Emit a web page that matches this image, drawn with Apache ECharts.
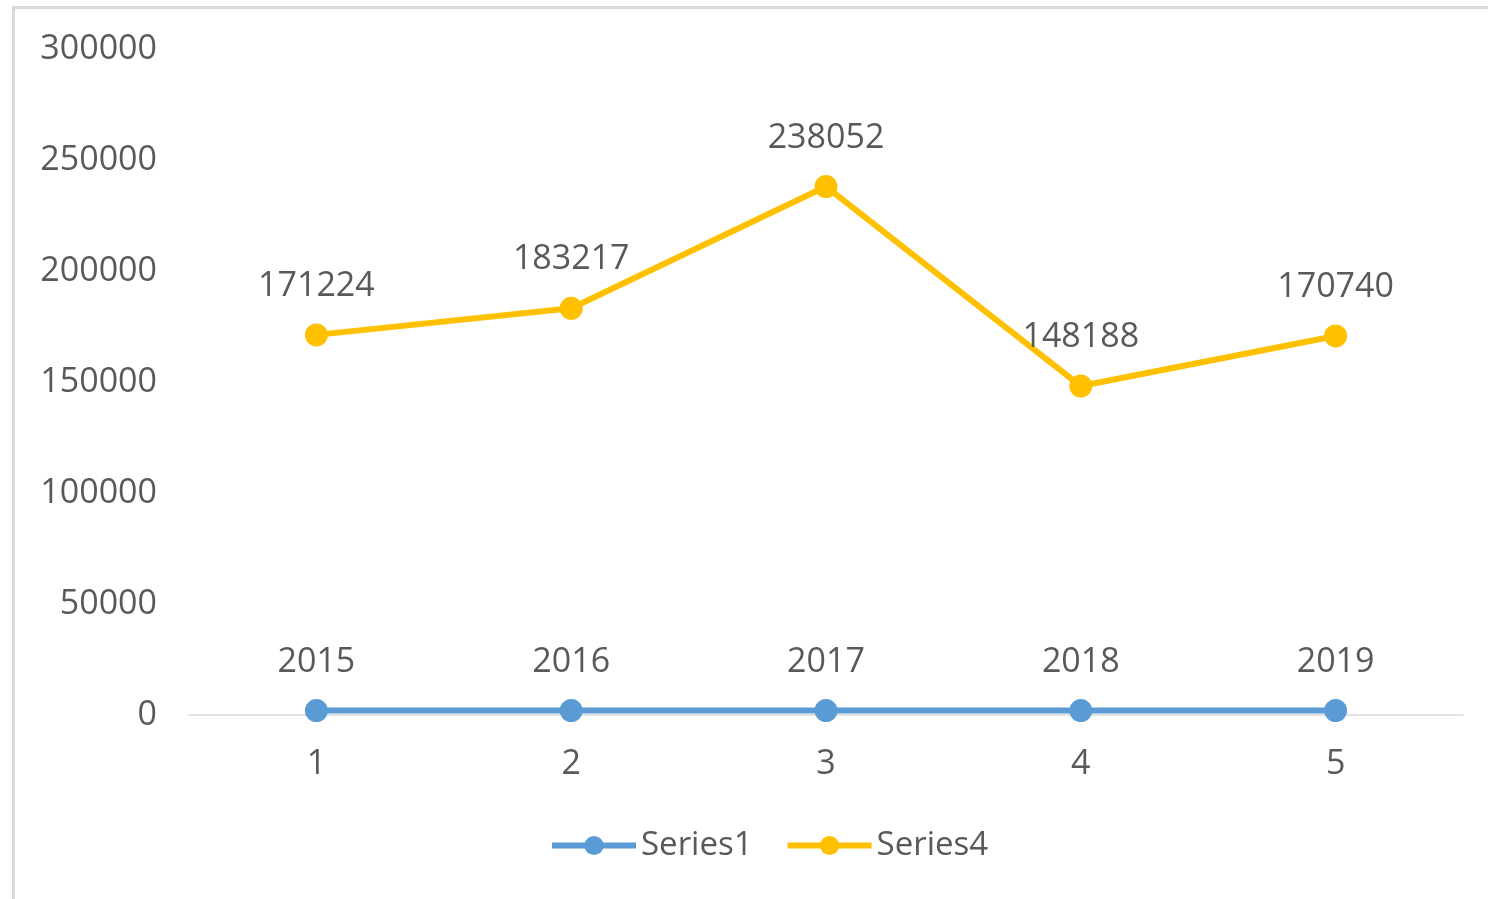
<!DOCTYPE html>
<html>
<head>
<meta charset="utf-8">
<script src="https://cdn.jsdelivr.net/npm/echarts@6/dist/echarts.min.js"></script>
<style>
html,body{margin:0;padding:0;background:#fff;overflow:hidden;}
#frame{position:absolute;left:12px;top:6px;width:1600px;height:1000px;border:3px solid #d9d9d9;box-sizing:border-box;}
#chart{position:absolute;left:0;top:0;width:1488px;height:899px;}
</style>
</head>
<body>
<div id="frame"></div>
<div id="chart"></div>
<script>
const categories = ['1', '2', '3', '4', '5'];
const series1 = [2015, 2016, 2017, 2018, 2019];
const series4 = [171224, 183217, 238052, 148188, 170740];
const yTicks = { min: 0, max: 300000, interval: 50000 };

const FONT = 'Open Sans';
const TXT = '#595959';
const chart = echarts.init(document.getElementById('chart'), null, { renderer: 'canvas' });
const labelCfg = { show: true, position: 'top', distance: 20, color: TXT, fontSize: 34, fontFamily: FONT };
chart.setOption({
  animation: false,
  grid: { left: 189, right: 25, top: 49, bottom: 184, containLabel: false },
  legend: {
    bottom: 32, left: 544,
    itemWidth: 84, itemHeight: 24, itemGap: 32,
    lineStyle: { width: 6 },
    textStyle: { color: TXT, fontSize: 33, fontFamily: FONT, padding: [0, 0, 0, 0] },
    data: ['Series1', 'Series4']
  },
  xAxis: {
    type: 'category', data: categories, boundaryGap: true,
    axisLine: { show: true, lineStyle: { color: '#d9d9d9', width: 1.5 } },
    axisTick: { show: false },
    axisLabel: { color: TXT, fontSize: 34, fontFamily: FONT, margin: 32 }
  },
  yAxis: {
    type: 'value', min: yTicks.min, max: yTicks.max, interval: yTicks.interval,
    axisLine: { show: false }, axisTick: { show: false }, splitLine: { show: false },
    axisLabel: { color: TXT, fontSize: 34, fontFamily: FONT, margin: 32, formatter: v => String(v) }
  },
  series: [
    {
      name: 'Series1', type: 'line', data: series1,
      symbol: 'circle', symbolSize: 23,
      lineStyle: { color: '#5B9BD5', width: 6 },
      itemStyle: { color: '#5B9BD5' },
      label: labelCfg
    },
    {
      name: 'Series4', type: 'line', data: series4,
      symbol: 'circle', symbolSize: 23,
      lineStyle: { color: '#FFC000', width: 6 },
      itemStyle: { color: '#FFC000' },
      label: labelCfg
    }
  ]
});
</script>
</body>
</html>
